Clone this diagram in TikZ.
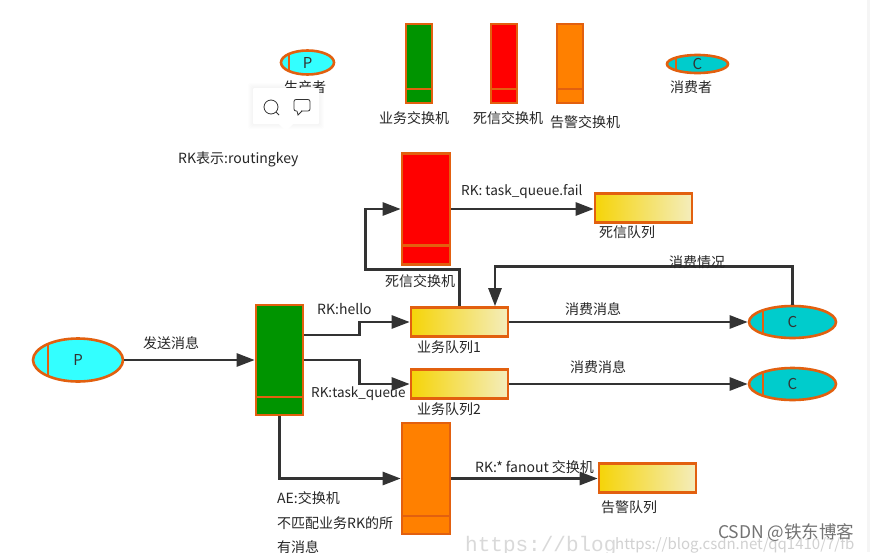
\documentclass[tikz,border=0pt]{standalone}
\usepackage{fontspec}
\setmainfont{Noto Sans CJK SC}
\newfontfamily\wmfont{Liberation Mono}
\usetikzlibrary{arrows.meta,positioning,calc,shapes.geometric}
\definecolor{edgeorange}{HTML}{E2600F}
\definecolor{linkgray}{HTML}{333333}
\definecolor{bizgreen}{HTML}{009400}
\definecolor{alertorange}{HTML}{FF8000}
\definecolor{prodcyan}{HTML}{33FFFF}
\definecolor{conscyan}{HTML}{00CCCC}
\definecolor{queuegold}{HTML}{F5D408}
\definecolor{queuepale}{HTML}{F4EDBC}

\begin{document}
\begin{tikzpicture}[x=1pt,y=-1pt,>={Triangle[length=18pt,width=13pt]},
bar/.style={rectangle,draw=edgeorange,line width=2.6pt,inner sep=0pt,
  path picture={\draw[edgeorange,line width=2.4pt] ([yshift=#1]path picture bounding box.south west)--([yshift=#1]path picture bounding box.south east);}},
queue/.style={rectangle,draw=edgeorange,line width=2.6pt,inner sep=0pt,minimum width=97pt,minimum height=29pt,left color=queuegold,right color=queuepale},
oval/.style={ellipse,draw=edgeorange,line width=2.6pt,inner sep=0pt,text=linkgray,font=\fontsize{15}{15}\selectfont,
  path picture={\draw[edgeorange,line width=2.2pt] ([xshift=#1]path picture bounding box.north west)--([xshift=#1]path picture bounding box.south west);}},
txt/.style={text=black!85,inner sep=0pt,font=\fontsize{14}{16}\selectfont},
link/.style={->,line width=2.6pt,draw=linkgray}]
\useasboundingbox (0,0) rectangle (870,552);
\fill[white] (0,0) rectangle (870,552);
\fill[black!4] (867,0) rectangle (870,552);

% legend
\node[oval=8pt,fill=prodcyan,minimum width=53pt,minimum height=24pt] (legp) at (307.5,62.5) {P};
\node[txt] (legptxt) at (305,87) {生产者};
\node[bar=14pt,fill=bizgreen,minimum width=26pt,minimum height=79pt] (leggreen) at (419,63.5) {};
\node[bar=14pt,fill=red,minimum width=26pt,minimum height=79pt] (legred) at (504,63.5) {};
\node[bar=14pt,fill=alertorange,minimum width=26pt,minimum height=79pt] (legorange) at (570,63.5) {};
\node[oval=9pt,fill=conscyan,minimum width=61pt,minimum height=18pt] (legc) at (697.5,64) {C};
\node[txt] (leggreentxt) at (414,118) {业务交换机};
\node[txt] (legredtxt) at (508,118) {死信交换机};
\node[txt] (legorangetxt) at (585,122) {告警交换机};
\node[txt] (legctxt) at (691,87) {消费者};
\node[txt,anchor=west] (rknote) at (178,159) {RK表示:routingkey};

% floating toolbar
\foreach \d in {5,4,3,2,1}
  \fill[black,opacity=0.006,rounded corners=2pt] (253-\d,88-\d) rectangle (319+\d,124+\d);
\fill[white,rounded corners=1pt] (253,88) rectangle (319,124);
\fill[white] (279,124)--(286,131)--(293,124)--cycle;
\draw[linkgray,line width=0.8pt] (271,107) circle (7pt);
\draw[linkgray,line width=0.8pt] (276,112)--(279,115);
\draw[linkgray,line width=0.8pt,rounded corners=2pt] (294,99.5) rectangle (310,111);
\fill[white] (297,110) rectangle (301,112);
\draw[linkgray,line width=0.8pt] (297,111)--(298,115)--(302,111);

% main flow
\node[oval=15pt,fill=prodcyan,minimum width=90pt,minimum height=43pt] (prod) at (78,360) {P};
\node[bar=18pt,fill=bizgreen,minimum width=47pt,minimum height=110pt] (biz) at (279.5,360) {};
\node[bar=19pt,fill=red,minimum width=48pt,minimum height=111pt] (dead) at (426,209) {};
\node[bar=18pt,fill=alertorange,minimum width=48pt,minimum height=111pt] (alert) at (426,478.5) {};
\node[queue] (q1) at (459.5,322) {};
\node[queue] (q2) at (459.5,384) {};
\node[queue] (qdead) at (643.5,208) {};
\node[queue] (qalert) at (647.5,478) {};
\node[oval=14pt,fill=conscyan,minimum width=87pt,minimum height=32pt] (c1) at (792.5,322) {C};
\node[oval=14pt,fill=conscyan,minimum width=87pt,minimum height=32pt] (c2) at (792.5,384) {C};

\draw[link] (prod)--(biz);
\draw[link] ([yshift=25pt]biz.east)--++(55,0)|-(q1.west);
\draw[link] (biz.east)--++(55,0)|-(q2.west);
\draw[link] (biz.south)|-(alert.west);
\draw[link] (q1.north)--++(0,-37)--++(-94,0)|-(dead.west);
\draw[link] (dead.east)--(dead.east-|qdead.west);
\draw[link] (alert.east)--(alert.east-|qalert.west);
\draw[link] (q1.east)--(c1.west);
\draw[link] (q2.east)--(c2.west);
\draw[link] (c1.north)--++(0,-38)-|([xshift=35.5pt]q1.north);

\node[txt] (sendtxt) at (171,343) {发送消息};
\node[txt,anchor=west] (hellotxt) at (317,309) {RK:hello};
\node[txt,anchor=west,font=\fontsize{13.5}{16}\selectfont] (tasktxt) at (311,394) {RK:task\_queue};
\node[txt,anchor=west,font=\fontsize{13.6}{16}\selectfont] (failtxt) at (461,192) {RK: task\_queue.fail};
\node[txt,anchor=west] (fanouttxt) at (475,467) {RK:* fanout 交换机};
\node[txt] (deadtxt) at (420,281) {死信交换机};
\node[txt] (qdeadtxt) at (627,232) {死信队列};
\node[txt] (q1txt) at (449,347) {业务队列1};
\node[txt] (q2txt) at (449,409) {业务队列2};
\node[txt] (qalerttxt) at (629,507) {告警队列};
\node[txt] (use1txt) at (593,309) {消费消息};
\node[txt] (use2txt) at (598,367) {消费消息};
\node[txt] (statetxt) at (697,262) {消费情况};
\node[txt,anchor=west] (ae1) at (277,498) {AE:交换机};
\node[txt,anchor=west] (ae2) at (277,523) {不匹配业务RK的所};
\node[txt,anchor=west] (ae3) at (277,547) {有消息};

% watermark
\node[anchor=west,inner sep=0pt,text=black!15,font=\wmfont\fontsize{21}{21}\selectfont] (wm1) at (465,546) {https://blog};
\node[anchor=west,inner sep=0pt,text=black!18,font=\fontsize{15}{15}\selectfont] (wm2) at (615,545) {https://blog.csdn.net/qq1410/7/fb};
\node[anchor=west,inner sep=0pt,text=black!55,font=\fontsize{17.5}{17.5}\selectfont] (wm3) at (718,533) {CSDN @铁东博客};
\end{tikzpicture}
\end{document}
